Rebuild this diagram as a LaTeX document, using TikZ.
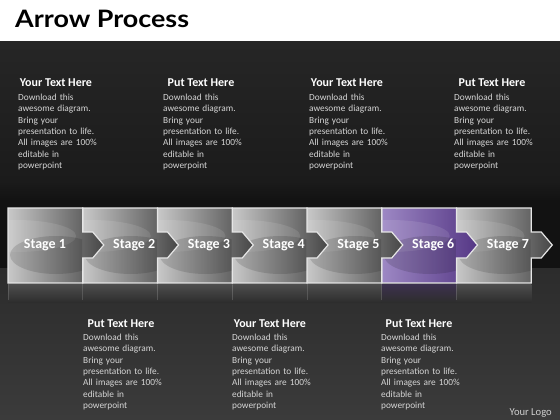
\documentclass[tikz,border=0pt]{standalone}
\usepackage{fontspec}
\setmainfont{Carlito}
\newfontfamily\titlefont{Lato}[FakeStretch=1.12]
\usetikzlibrary{positioning}

\definecolor{bgtop}{HTML}{262626}
\definecolor{bgmid}{HTML}{1B1B1B}
\definecolor{bgband}{HTML}{121212}
\definecolor{bglow}{HTML}{2C2C2C}
\definecolor{bgbottom}{HTML}{3B3B3B}
\definecolor{boxlight}{HTML}{C8C8C8}
\definecolor{boxdark}{HTML}{474747}
\definecolor{purplelight}{HTML}{9D88C4}
\definecolor{purpledark}{HTML}{553785}
\definecolor{edgewhite}{HTML}{E6E6E6}
\definecolor{blurbgray}{HTML}{D6D6D6}
\definecolor{logogray}{HTML}{CFCFCF}

\tikzset{
  headtxt/.style={text=white, font=\bfseries\fontsize{12}{14}\selectfont,
    inner sep=0pt, anchor=base},
  blurbtxt/.style={text=blurbgray, font=\fontsize{9.3}{11.3}\selectfont,
    text width=85pt, align=left, inner sep=0pt, anchor=north west},
  stagebox/.style n args={2}{draw=edgewhite, line width=1.2pt,
    left color=#1, right color=#2},
  stagetxt/.style={text=white, font=\bfseries\fontsize{14}{16}\selectfont,
    inner sep=0pt},
}

\newcommand{\blurb}{Download this\\awesome diagram.\\Bring your\\presentation to life.\\All images are 100\%\\editable in\\powerpoint}

\begin{document}
\begin{tikzpicture}[x=1pt, y=-1pt]
  \useasboundingbox (0,0) rectangle (560,420);

  % backdrop
  \fill[white] (0,0) rectangle (560,42);
  \shade[top color=bgtop, bottom color=bgmid] (0,42) rectangle (560,182);
  \shade[top color=bgmid, bottom color=bgband] (0,182) rectangle (560,200);
  \fill[bgband] (0,200) rectangle (560,268);
  \shade[top color=bglow, bottom color=bgbottom] (0,268) rectangle (560,420);

  \node[font=\titlefont\bfseries\fontsize{24}{27}\selectfont, anchor=base west,
    inner sep=0pt] (title) at (15,27.5) {Arrow Process};

  % reflection under the stages
  \foreach \i in {1,...,7} {
    \pgfmathsetmacro\L{8+74.75*(\i-1)}
    \pgfmathsetmacro\R{\L+74.75}
    \ifnum\i=6 \def\rc{purpledark}\else \def\rc{gray}\fi
    \shade[top color=\rc, bottom color=bglow, opacity=.4] (\L,284) rectangle (\R,302);
    \draw[gray, opacity=.4, line width=.6pt] (\L,284) -- (\L,300);
  }

  % the stage boxes, right to left so each tab sits over the next box
  \foreach \i in {7,6,...,1} {
    \pgfmathsetmacro\L{8+74.75*(\i-1)}
    \pgfmathsetmacro\R{\L+74.75}
    \ifnum\i=6 \def\lc{purplelight}\def\rc{purpledark}\else \def\lc{boxlight}\def\rc{boxdark}\fi
    \draw[stagebox={\lc}{\rc}] (\L,208) -- (\R,208) -- (\R,232) -- (\R+10,232)
      -- (\R+21,245) -- (\R+10,258) -- (\R,258) -- (\R,283) -- (\L,283) -- cycle;
    \begin{scope}
      \clip (\L+0.6,208.6) rectangle (\R-0.6,282.4);
      \fill[white, opacity=.10] (\L+8,236) ellipse [x radius=60pt, y radius=16pt];
      \fill[black, opacity=.13] (\L+48,255) ellipse [x radius=46pt, y radius=19pt];
    \end{scope}
  }

  % stage labels
  \node[stagetxt] (s1) at (45,245) {Stage 1};
  \foreach \i in {2,...,7} {
    \pgfmathsetmacro\cx{8+74.75*(\i-1)+51.5}
    \node[stagetxt] (s\i) at (\cx,245) {Stage \i};
  }

  % text blocks above
  \foreach \cx/\hd [count=\k] in {56/Your,201/Put,347/Your,492/Put} {
    \node[headtxt] (th\k) at (\cx,87) {\hd{} Text Here};
    \node[blurbtxt] (tb\k) at ([shift={(-38pt,-7pt)}]th\k.base) {\blurb};
  }

  % text blocks below
  \foreach \cx/\hd [count=\k] in {121/Put,270/Your,419/Put} {
    \node[headtxt] (bh\k) at (\cx,327) {\hd{} Text Here};
    \node[blurbtxt] (bb\k) at ([shift={(-38pt,-7pt)}]bh\k.base) {\blurb};
  }

  \node[text=logogray, font=\fontsize{10.6}{12}\selectfont, anchor=base east,
    inner sep=0pt] (logo) at (552,415) {Your Logo};
\end{tikzpicture}
\end{document}
